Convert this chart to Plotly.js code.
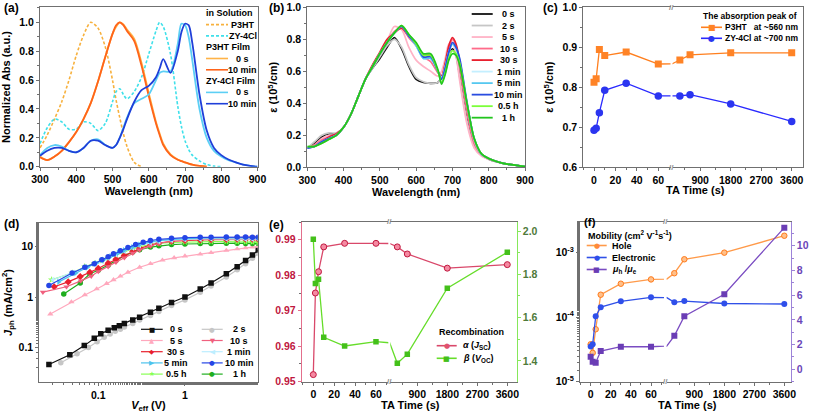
<!DOCTYPE html>
<html><head><meta charset="utf-8">
<script src="https://cdn.plot.ly/plotly-3.0.1.min.js"></script>
<style>html,body{margin:0;padding:0;background:#fff;}#chart{width:813px;height:413px;}</style>
</head><body><div id="chart"></div>
<script>
// ---------------- DATA ----------------
// (a) normalized absorption
const waveA = [300,320,340,360,380,400,420,440,460,480,500,510,520,530,540,560,580,600,620,630,640,660,680,690,700,710,720,740,760,780,800,820,840,860,880,900];
const absP3HTSol = [0.13,0.22,0.33,0.45,0.60,0.77,0.91,1.00,0.96,0.83,0.60,0.46,0.34,0.23,0.14,0.03,0.00,null,null,null,null,null,null,null,null,null,null,null,null,null,null,null,null,null,null,null];
const absZYSol = [0.16,0.27,0.33,0.31,0.26,0.26,0.31,0.30,0.25,0.30,0.45,0.52,0.54,0.50,0.47,0.52,0.62,0.78,0.94,1.00,0.97,0.78,0.42,0.28,0.18,0.12,0.08,0.04,0.015,0.004,0.0,null,null,null,null,null];
const absP3HTFilm0 = [0.07,0.045,0.07,0.11,0.17,0.24,0.33,0.44,0.59,0.76,0.92,0.97,1.00,0.985,0.95,0.885,0.72,0.51,0.31,0.23,0.16,0.085,0.05,0.04,0.03,0.022,0.015,0.006,0.0,null,null,null,null,null,null,null];
const absP3HTFilm10 = [0.065,0.045,0.07,0.11,0.17,0.24,0.33,0.44,0.59,0.76,0.92,0.98,1.00,0.98,0.94,0.87,0.70,0.49,0.30,0.22,0.15,0.08,0.048,0.038,0.03,0.022,0.015,0.006,0.0,null,null,null,null,null,null,null];
const absZYFilm0 = [0.08,0.13,0.15,0.14,0.11,0.10,0.13,0.18,0.19,0.15,0.13,0.15,0.20,0.27,0.34,0.44,0.47,0.50,0.60,0.65,0.66,0.66,0.85,0.99,0.98,0.90,0.74,0.40,0.20,0.11,0.07,0.045,0.03,0.015,0.006,0.0];
const absZYFilm10 = [0.075,0.11,0.13,0.13,0.11,0.10,0.13,0.18,0.18,0.15,0.13,0.15,0.20,0.26,0.33,0.45,0.53,0.56,0.62,0.68,0.745,0.65,0.80,0.93,0.99,0.98,0.86,0.50,0.25,0.13,0.08,0.05,0.03,0.015,0.006,0.0];

// (b) extinction coefficient vs TA time
const waveB = [300,320,340,360,380,400,420,440,460,480,500,520,540,560,580,600,620,640,660,670,680,690,700,710,720,740,760,780,800,840,900];
const labelsB = ['0 s','2 s','5 s','10 s','30 s','1 min','5 min','10 min','0.5 h','1 h'];
const eps0s   = [.12,.15,.19,.21,.21,.25,.33,.44,.55,.62,.68,.75,.81,.74,.63,.55,.53,.525,.53,.56,.62,.70,.74,.70,.57,.30,.14,.08,.05,.025,.005];
const eps2s   = [.12,.16,.20,.215,.215,.25,.33,.44,.55,.62,.69,.76,.80,.75,.64,.56,.535,.525,.53,.565,.63,.70,.73,.69,.56,.29,.13,.075,.05,.025,.005];
const eps5s   = [.12,.14,.18,.20,.20,.25,.33,.44,.55,.63,.71,.79,.88,.86,.75,.67,.63,.60,.57,.60,.68,.77,.78,.70,.54,.27,.12,.07,.05,.025,.005];
const eps10s  = [.12,.14,.17,.19,.20,.25,.33,.44,.55,.64,.71,.78,.85,.87,.81,.76,.69,.66,.59,.57,.64,.74,.80,.76,.63,.35,.15,.08,.055,.025,.005];
const eps30s  = [.12,.13,.16,.19,.21,.25,.33,.44,.55,.64,.72,.80,.84,.87,.82,.77,.70,.70,.60,.57,.65,.76,.81,.77,.66,.38,.17,.08,.055,.025,.005];
const eps1min = [.12,.13,.16,.18,.20,.25,.33,.44,.55,.63,.71,.78,.84,.88,.82,.76,.68,.68,.60,.56,.63,.72,.77,.74,.66,.39,.17,.08,.055,.025,.005];
const eps5min = [.12,.13,.16,.18,.20,.25,.33,.44,.55,.63,.71,.78,.84,.88,.82,.76,.68,.68,.60,.555,.62,.72,.77,.745,.67,.40,.18,.08,.055,.025,.005];
const eps10min= [.12,.13,.16,.18,.20,.25,.33,.44,.55,.63,.71,.78,.84,.88,.82,.77,.69,.69,.60,.55,.62,.72,.78,.75,.68,.41,.18,.085,.055,.025,.005];
const eps05h  = [.13,.13,.15,.175,.20,.25,.33,.44,.55,.63,.71,.78,.84,.885,.83,.77,.70,.70,.60,.53,.59,.68,.73,.71,.65,.40,.18,.085,.055,.025,.005];
const eps1h   = [.13,.13,.15,.175,.20,.25,.33,.44,.55,.63,.71,.78,.84,.885,.83,.78,.71,.71,.61,.52,.58,.67,.71,.70,.64,.40,.18,.085,.055,.025,.005];

// (c),(e),(f) TA time axis
const taTime = [0,2,5,10,30,60,300,600,1800,3600];
const leftTicks = [0,20,40,60];
const rightTicks = [900,1800,2700,3600];
const epsPeakP3HT = [0.812,0.821,0.894,0.879,0.888,0.858,0.868,0.881,0.886,0.886];
const epsPeakZY   = [0.692,0.697,0.736,0.792,0.810,0.778,0.778,0.781,0.758,0.714];

// (d) Jph vs Veff
const V0s = [0.027,0.047,0.069,0.09,0.107,0.13,0.153,0.175,0.2,0.25,0.3,0.4,0.5,0.7,1.0,1.5,2.0,3.0,4.0,5.0,6.0,7.0];
const J0s = [0.046,0.072,0.109,0.152,0.188,0.219,0.247,0.27,0.30,0.35,0.4,0.5,0.6,0.78,1.0,1.45,1.9,2.9,4.0,5.3,6.8,8.6];
const V2s = [0.037,0.057,0.077,0.097,0.117,0.137,0.157,0.18,0.2,0.25,0.3,0.4,0.5,0.7,1.0,1.5,2.0,3.0,4.0,5.0,6.0,7.0];
const J2s = [0.05,0.075,0.1,0.13,0.16,0.185,0.21,0.23,0.255,0.3,0.35,0.43,0.52,0.68,0.88,1.25,1.65,2.5,3.5,4.6,5.9,7.3];
const V5s = [0.028,0.049,0.07,0.096,0.125,0.15,0.18,0.22,0.3,0.4,0.55,0.75,1.0,1.5,2.0,3.0,4.0,5.0,6.0,7.0];
const J5s = [0.46,0.8,1.1,1.45,1.85,2.2,2.6,3.1,3.9,4.6,5.4,6.0,6.5,7.1,7.6,8.4,9.0,9.5,9.8,10.1];
const V10s = [0.023,0.043,0.063,0.083,0.1,0.13,0.16,0.2,0.25,0.3,0.4,0.5,0.7,1.0,1.5,2.0,3.0,4.0,5.0,6.0,7.0];
const J10s = [1.25,1.6,2.1,2.6,3.2,4.0,4.9,6.0,7.4,8.6,10.3,11.6,12.8,13.6,14.2,14.6,15.0,15.3,15.4,15.4,15.3];
const V30s = [0.031,0.045,0.062,0.08,0.1,0.13,0.16,0.2,0.25,0.3,0.4,0.5,0.7,1.0,1.5,2.0,3.0,4.0,5.0,6.0,7.0];
const J30s = [1.6,2.0,2.55,3.1,3.7,4.7,5.6,6.7,8.0,9.2,10.8,11.8,12.8,13.3,13.6,13.8,13.9,14.0,14.0,14.0,13.9];
const V1min = [0.03,0.05,0.07,0.09,0.11,0.13,0.16,0.2,0.25,0.3,0.4,0.5,0.7,1.0,1.5,2.0,3.0,4.0,5.0,6.0,7.0];
const J1min = [2.2,3.0,3.8,4.5,5.2,6.0,7.0,8.2,9.5,10.6,12.0,12.8,13.6,14.0,14.2,14.3,14.3,14.3,14.2,14.2,14.1];
const V5min = [0.035,0.055,0.075,0.095,0.115,0.14,0.17,0.2,0.25,0.3,0.4,0.5,0.7,1.0,1.5,2.0,3.0,4.0,5.0,6.0,7.0];
const J5min = [2.0,3.0,3.9,4.7,5.5,6.5,7.5,8.5,9.8,11.0,12.4,13.2,14.0,14.5,14.8,14.9,15.0,15.0,15.0,14.9,14.9];
const V10min = [0.027,0.05,0.07,0.09,0.11,0.13,0.15,0.18,0.22,0.27,0.33,0.4,0.5,0.7,1.0,1.5,2.0,3.0,4.0,5.0,6.0,7.0];
const J10min = [1.7,3.0,3.9,4.6,5.5,6.3,7.2,8.3,9.6,11.0,12.2,13.2,14.0,14.7,15.1,15.3,15.4,15.5,15.5,15.5,15.4,15.4];
const V05h = [0.029,0.05,0.07,0.09,0.11,0.13,0.16,0.2,0.25,0.3,0.4,0.5,0.7,1.0,1.5,2.0,3.0,4.0,5.0,6.0,7.0];
const J05h = [2.2,3.0,4.0,4.6,5.3,6.0,6.9,8.0,9.1,10.0,11.0,11.6,12.1,12.4,12.6,12.6,12.6,12.5,12.4,12.3,12.2];
const V1h = [0.04,0.062,0.08,0.1,0.13,0.16,0.2,0.25,0.3,0.4,0.5,0.7,1.0,1.5,2.0,3.0,4.0,5.0,6.0,7.0];
const J1h = [1.15,1.9,2.9,3.4,4.3,5.3,6.6,7.8,8.7,9.8,10.4,11.0,11.3,11.5,11.6,11.7,11.7,11.6,11.6,11.5];
const logTicksVx = [0.1,1];
const logTextVx = ['0.1','1'];
const logTicksJy = [0.1,1,10];
const logTextJy = ['0.1','1','10'];

// (e) recombination
const alphaJsc = [0.952,0.975,0.981,0.988,0.989,0.989,0.988,0.986,0.982,0.983];
const betaVoc  = [1.962,1.758,1.777,1.509,1.469,1.489,1.389,1.431,1.736,1.902];

// (f) mobility
const holeMob = [3.8e-5,2.8e-5,6.5e-5,2.23e-4,3.3e-4,3.85e-4,4.8e-4,7.9e-4,1.0e-3,1.83e-3];
const elecMob = [3.5e-5,3.8e-5,1.03e-4,1.43e-4,1.76e-4,2.03e-4,1.7e-4,1.78e-4,1.63e-4,1.6e-4];
const mobRatio = [1.02,0.61,0.53,1.48,1.83,1.83,2.71,4.3,6.08,11.47];
const mobTicks = [1e-5,1e-4,1e-3];
const mobTickText = ['10<sup>-5</sup>','10<sup>-4</sup>','10<sup>-3</sup>'];

// ---------------- STYLE / LAYOUT HELPERS ----------------
const W = 813, H = 413;
const PX = v => v / W;
const PY = v => 1 - v / H;
const FONT = 'Liberation Sans, Arial, Helvetica, sans-serif';
const LINE = '#707070';
const bold = (size, color) => ({family: FONT, size: size, color: color || '#000', weight: 'bold'});

function ax(o) {
  return Object.assign({
    showline: true, linecolor: LINE, linewidth: 1,
    ticks: 'outside', ticklen: 3, tickwidth: 1, tickcolor: LINE,
    showgrid: false, zeroline: false, autorange: false, fixedrange: true,
    tickfont: bold(10.5)
  }, o);
}
const minor = (d) => ({ticks: 'outside', ticklen: 2, tickcolor: LINE, dtick: d, showgrid: false});

const colB = ['#111111','#c6c6c6','#ffb3c6','#ff6b8a','#e8202e','#c4efff','#55c8f0','#2a4de0','#7cff3a','#22c51e'];
const seriesB = [eps0s, eps2s, eps5s, eps10s, eps30s, eps1min, eps5min, eps10min, eps05h, eps1h];

const traces = [];

// (a)
const cA = {p3sol:'#f7b13e', zysol:'#3fe0ea', p30:'#ffb347', p310:'#ff641a', zy0:'#5ccff5', zy10:'#1f3fd9'};
function lineTrace(x, y, xa, ya, color, width, dash) {
  return {x: x, y: y, xaxis: xa, yaxis: ya, type: 'scatter', mode: 'lines',
    line: {color: color, width: width, dash: dash || 'solid', shape: 'spline', smoothing: 0.8},
    connectgaps: false, showlegend: false, hoverinfo: 'skip'};
}
traces.push(lineTrace(waveA, absP3HTSol, 'x', 'y', cA.p3sol, 1.6, '3px,2px'));
traces.push(lineTrace(waveA, absZYSol, 'x', 'y', cA.zysol, 1.6, '3px,2px'));
traces.push(lineTrace(waveA, absP3HTFilm0, 'x', 'y', cA.p30, 1.8));
traces.push(lineTrace(waveA, absP3HTFilm10, 'x', 'y', cA.p310, 1.8));
traces.push(lineTrace(waveA, absZYFilm0, 'x', 'y', cA.zy0, 1.8));
traces.push(lineTrace(waveA, absZYFilm10, 'x', 'y', cA.zy10, 1.8));

// (b)
seriesB.forEach((s, i) => traces.push(lineTrace(waveB, s, 'x2', 'y2', colB[i], 1.7)));

// broken-axis helper: the left segment shows 0-60 s, the right segment 300-3600 s,
// with the 60 s -> 300 s link drawn on both sides (clipped at the break).
const iLastLeft = taTime.indexOf(60);
function broken(y, xl, yl, xr, yr, color, marker) {
  const base = {type: 'scatter', cliponaxis: true, showlegend: false, hoverinfo: 'skip',
    line: {color: color, width: 1.3}, marker: marker};
  traces.push(Object.assign({}, base, {x: taTime.slice(0, iLastLeft + 2), y: y.slice(0, iLastLeft + 2),
    mode: 'lines+markers', xaxis: xl, yaxis: yl}));
  traces.push(Object.assign({}, base, {x: taTime.slice(iLastLeft), y: y.slice(iLastLeft),
    mode: 'lines', xaxis: xr, yaxis: yr}));
  traces.push(Object.assign({}, base, {x: taTime.slice(iLastLeft + 1), y: y.slice(iLastLeft + 1),
    mode: 'markers', xaxis: xr, yaxis: yr}));
}
// (c)
broken(epsPeakP3HT, 'x3', 'y3', 'x4', 'y4', '#ff7f1e', {symbol: 'square', size: 7, color: '#ff8326'});
broken(epsPeakZY, 'x3', 'y3', 'x4', 'y4', '#2a2aff', {symbol: 'circle', size: 7.5, color: '#2b35f0'});

// (d)
const dSeries = [
  {v: V2s, j: J2s, c: colB[1], s: 'circle', n: '2 s'},
  {v: V0s, j: J0s, c: colB[0], s: 'square', n: '0 s'},
  {v: V5s, j: J5s, c: '#ffa8bd', s: 'triangle-up', n: '5 s'},
  {v: V1h, j: J1h, c: '#1fae1f', s: 'circle', n: '1 h'},
  {v: V05h, j: J05h, c: '#88ff55', s: 'star', n: '0.5 h'},
  {v: V30s, j: J30s, c: '#e8202e', s: 'diamond', n: '30 s'},
  {v: V10s, j: J10s, c: '#f0607e', s: 'triangle-down', n: '10 s'},
  {v: V1min, j: J1min, c: '#bdeeff', s: 'triangle-left', n: '1 min'},
  {v: V5min, j: J5min, c: '#4cc3ec', s: 'triangle-right', n: '5 min'},
  {v: V10min, j: J10min, c: '#2545e6', s: 'circle', n: '10 min'}
];
dSeries.forEach(d => traces.push({x: d.v, y: d.j, xaxis: 'x5', yaxis: 'y5', type: 'scatter', mode: 'lines+markers',
  line: {color: d.c, width: 1.2}, marker: {symbol: d.s, size: 5.5, color: d.c}, showlegend: false, hoverinfo: 'skip'}));

// (e)
broken(alphaJsc, 'x6', 'y6', 'x7', 'y7', '#d9486a', {symbol: 'circle', size: 6, color: '#f58aa2', line: {color: '#c0183f', width: 1}});
broken(betaVoc, 'x6', 'y9', 'x7', 'y8', '#66dd2a', {symbol: 'square', size: 5.5, color: '#44c01a'});

// (f)
broken(holeMob, 'x8', 'y10', 'x9', 'y11', '#ff9a4a', {symbol: 'circle', size: 5.5, color: '#ffc08a', line: {color: '#ff7a1a', width: 1}});
broken(elecMob, 'x8', 'y10', 'x9', 'y11', '#3050e8', {symbol: 'circle', size: 6, color: '#2f4fea'});
broken(mobRatio, 'x8', 'y13', 'x9', 'y12', '#7a4cc2', {symbol: 'square', size: 6, color: '#6a3db5'});

// ---------------- AXES ----------------
const dA = {x: [PX(40), PX(257.5)], y: [PY(166.7), PY(7.3)]};
const dB = {x: [PX(307.3), PX(525)], y: [PY(167.3), PY(7.3)]};
const dCy = [PY(167), PY(7.3)];
const dD = {x: [PX(39.3), PX(257.7)], y: [PY(382.3), PY(222.7)]};
const dEy = [PY(381.7), PY(221.7)];
const dFy = [PY(381.7), PY(221.7)];

const layout = {
  width: W, height: H, margin: {l: 0, r: 0, t: 0, b: 0},
  paper_bgcolor: '#fff', plot_bgcolor: 'rgba(0,0,0,0)', showlegend: false, hovermode: false,
  font: {family: FONT, size: 10.5, color: '#000', weight: 'bold'},
  // (a)
  xaxis: ax({domain: dA.x, anchor: 'y', range: [300, 900], dtick: 100, tick0: 300, mirror: true, minor: minor(50),
    title: {text: 'Wavelength (nm)', font: bold(11), standoff: 2}}),
  yaxis: ax({domain: dA.y, anchor: 'x', range: [0, 1.104], dtick: 0.2, tick0: 0, tickformat: '.1f', mirror: true, minor: minor(0.1),
    title: {text: 'Normalized Abs (a.u.)', font: bold(11), standoff: 6}}),
  // (b)
  xaxis2: ax({domain: dB.x, anchor: 'y2', range: [300, 900], dtick: 100, tick0: 300, mirror: true, minor: minor(50),
    title: {text: 'Wavelength (nm)', font: bold(11), standoff: 2}}),
  yaxis2: ax({domain: dB.y, anchor: 'x2', range: [0, 1.0], dtick: 0.2, tick0: 0, tickformat: '.1f', mirror: true, minor: minor(0.1),
    title: {text: 'ε (10<sup>5</sup>/cm)', font: bold(11), standoff: 6}}),
  // (c)
  xaxis3: ax({domain: [PX(583.3), PX(670.5)], anchor: 'y3', range: [-10, 71.4], tickmode: 'array', tickvals: leftTicks, mirror: true, minor: minor(10)}),
  xaxis4: ax({domain: [PX(672.5), PX(803.3)], anchor: 'y4', range: [82.6, 3942], tickmode: 'array', tickvals: rightTicks, mirror: true, minor: minor(450)}),
  yaxis3: ax({domain: dCy, anchor: 'x3', range: [0.6, 1.0], dtick: 0.1, tick0: 0.6, tickformat: '.1f', minor: minor(0.05),
    title: {text: 'ε (10<sup>5</sup>/cm)', font: bold(11), standoff: 6}}),
  yaxis4: ax({domain: dCy, anchor: 'x4', side: 'right', range: [0.6, 1.0], showticklabels: false, ticks: ''}),
  // (d)
  xaxis5: ax({type: 'log', domain: dD.x, anchor: 'y5', range: [Math.log10(0.0209), Math.log10(6.9)], tickmode: 'array',
    tickvals: logTicksVx, ticktext: logTextVx, mirror: true, minor: {ticks: 'outside', ticklen: 2, tickcolor: LINE},
    title: {text: '<i>V</i><sub>eff</sub> (V)', font: bold(11), standoff: 2}}),
  yaxis5: ax({type: 'log', domain: dD.y, anchor: 'x5', range: [-1.69, 1.475], tickmode: 'array',
    tickvals: logTicksJy, ticktext: logTextJy, mirror: true, minor: {ticks: 'outside', ticklen: 2, tickcolor: LINE},
    title: {text: '<i>J</i><sub>ph</sub> (mA/cm<sup>2</sup>)', font: bold(11), standoff: 6}}),
  // (e)
  xaxis6: ax({domain: [PX(301.7), PX(388.3)], anchor: 'y6', range: [-11.1, 71.8], tickmode: 'array', tickvals: leftTicks, mirror: true, minor: minor(10)}),
  xaxis7: ax({domain: [PX(390.3), PX(516.7)], anchor: 'y7', range: [90, 3882], tickmode: 'array', tickvals: rightTicks, mirror: true, minor: minor(450)}),
  yaxis6: ax({domain: dEy, anchor: 'x6', range: [0.95, 0.9951], dtick: 0.01, tick0: 0.95, tickformat: '.2f', minor: minor(0.005),
    linecolor: '#e36f8c', tickcolor: '#e36f8c', tickfont: bold(10.5, '#c0173f')}),
  yaxis7: ax({domain: dEy, anchor: 'x7', range: [0.95, 0.9951], visible: false}),
  yaxis8: ax({domain: dEy, anchor: 'x7', overlaying: 'y7', side: 'right', range: [1.304, 2.043], dtick: 0.2, tick0: 1.4, tickformat: '.1f',
    minor: Object.assign(minor(0.1), {tickcolor: '#86e85a'}), linecolor: '#86e85a', tickcolor: '#86e85a', tickfont: bold(10.5, '#4f7a3a')}),
  yaxis9: ax({domain: dEy, anchor: 'x6', overlaying: 'y6', range: [1.304, 2.043], visible: false}),
  // (f)
  xaxis8: ax({domain: [PX(580), PX(664)], anchor: 'y10', range: [-10.6, 72.9], tickmode: 'array', tickvals: leftTicks, mirror: true, minor: minor(10)}),
  xaxis9: ax({domain: [PX(666.5), PX(790.7)], anchor: 'y11', range: [65, 3792], tickmode: 'array', tickvals: rightTicks, mirror: true, minor: minor(450)}),
  yaxis10: ax({type: 'log', domain: dFy, anchor: 'x8', range: [-5, -2.52], tickmode: 'array', tickvals: mobTicks, ticktext: mobTickText,
    minor: {ticks: 'outside', ticklen: 2, tickcolor: LINE}}),
  yaxis11: ax({type: 'log', domain: dFy, anchor: 'x9', range: [-5, -2.52], visible: false}),
  yaxis12: ax({domain: dFy, anchor: 'x9', overlaying: 'y11', side: 'right', range: [-1, 11.95], dtick: 2, tick0: 0,
    minor: Object.assign(minor(1), {tickcolor: '#9d83d8'}), linecolor: '#9d83d8', tickcolor: '#9d83d8', tickfont: bold(10.5, '#6b46b8')}),
  yaxis13: ax({domain: dFy, anchor: 'x8', overlaying: 'y10', range: [-1, 11.95], visible: false}),
  shapes: [],
  annotations: []
};

// ---------------- LEGENDS (drawn as layout shapes + text) ----------------
const GLYPH = {'square': '■', 'circle': '●', 'triangle-up': '▲', 'triangle-down': '▼', 'triangle-left': '◀',
  'triangle-right': '▶', 'diamond': '◆', 'star': '★'};
function note(text, x, y, o) {
  layout.annotations.push(Object.assign({text: text, x: PX(x), y: PY(y), xref: 'paper', yref: 'paper', showarrow: false,
    xanchor: 'left', yanchor: 'middle', font: bold(9)}, o || {}));
}
function legendBlock(rows, c) {
  rows.forEach((r, i) => {
    const y = c.y0 + i * c.dy;
    if (r.header) { note(r.header, c.hx, y, {font: bold(c.fs || 9)}); return; }
    layout.shapes.push({type: 'line', xref: 'paper', yref: 'paper', x0: PX(c.lx0), x1: PX(c.lx1), y0: PY(y), y1: PY(y),
      line: {color: r.color, width: r.width || 1.6, dash: r.dash || 'solid'}});
    if (r.symbol) note(GLYPH[r.symbol], c.mx, y + 0.3, {xanchor: 'center', font: {family: 'DejaVu Sans', size: c.ms || 7, color: r.mcolor || r.color}});
    note(r.name, c.tx, y, {xanchor: c.ta || 'left', font: bold(c.fs || 9)});
  });
}
// (a)
legendBlock([
  {header: 'in Solution'},
  {name: 'P3HT', color: cA.p3sol, dash: '3px,2px'},
  {name: 'ZY-4Cl', color: cA.zysol, dash: '3px,2px'},
  {header: 'P3HT Film'},
  {name: '0 s', color: cA.p30},
  {name: '10 min', color: cA.p310},
  {header: 'ZY-4Cl Film'},
  {name: '0 s', color: cA.zy0},
  {name: '10 min', color: cA.zy10}
], {y0: 13.3, dy: 11.3, hx: 204, lx0: 206, lx1: 228, tx: 242.5, ta: 'center'});
// (b)
legendBlock(labelsB.map((n, i) => ({name: n, color: colB[i], width: 1.8})),
  {y0: 14, dy: 11.52, lx0: 471.7, lx1: 492.7, tx: 509, ta: 'center'});
// (c)
note('The absorption peak of', 701, 16, {font: bold(8.5)});
legendBlock([
  {name: 'P3HT\u00a0\u00a0\u00a0at ~560 nm', color: '#ff7f1e', symbol: 'square', mcolor: '#ff8326'},
  {name: 'ZY-4Cl at ~700 nm', color: '#2a2aff', symbol: 'circle', mcolor: '#2b35f0'}
], {y0: 27.3, dy: 11, lx0: 701, lx1: 722, mx: 711.5, tx: 723, fs: 8.5, ms: 8});
// (d)
const dByName = {};
dSeries.forEach(d => { dByName[d.n] = d; });
const dCol1 = ['0 s', '5 s', '30 s', '5 min', '0.5 h'];
const dCol2 = ['2 s', '10 s', '1 min', '10 min', '1 h'];
legendBlock(dCol1.map(n => ({name: n, color: dByName[n].c, symbol: dByName[n].s, width: 1.2})),
  {y0: 329.3, dy: 11.2, lx0: 141, lx1: 162.7, mx: 151.8, tx: 176, ta: 'center', ms: 6.5});
legendBlock(dCol2.map(n => ({name: n, color: dByName[n].c, symbol: dByName[n].s, width: 1.2})),
  {y0: 329.3, dy: 11.2, lx0: 201.7, lx1: 222.7, mx: 212.2, tx: 239, ta: 'center', ms: 6.5});
// (e)
note('Recombination', 436.7, 332.3);
legendBlock([
  {name: '<i>α</i> (<i>J</i><sub>SC</sub>)', color: '#d9486a', symbol: 'circle', mcolor: '#e0526f'},
  {name: '<i>β</i> (<i>V</i><sub>OC</sub>)', color: '#66dd2a', symbol: 'square', mcolor: '#44c01a'}
], {y0: 345.7, dy: 12.6, lx0: 436.7, lx1: 456.7, mx: 446.7, tx: 461});
// (f)
note('Mobility (cm<sup>2</sup> V<sup>-1</sup>s<sup>-1</sup>)', 586, 234.5);
legendBlock([
  {name: 'Hole', color: '#ff9a4a', symbol: 'circle', mcolor: '#ff8a3a'},
  {name: 'Electronic', color: '#3050e8', symbol: 'circle', mcolor: '#2f4fea'},
  {name: '<i>μ</i><sub>h</sub> /<i>μ</i><sub>e</sub>', color: '#7a4cc2', symbol: 'square', mcolor: '#6a3db5'}
], {y0: 245.5, dy: 12, lx0: 586.7, lx1: 606.7, mx: 596.7, tx: 610});

// x titles of the broken-axis panels, break marks, panel letters
note('TA Time (s)', 695, 190, {xanchor: 'center', font: bold(11)});
note('TA Time (s)', 410, 405, {xanchor: 'center', font: bold(11)});
note('TA Time (s)', 687.5, 405, {xanchor: 'center', font: bold(11)});
[[671.5, 167], [671.5, 7.3], [389.3, 381.7], [389.3, 221.7], [665.3, 381.7], [665.3, 221.7]].forEach(p =>
  note('//', p[0], p[1], {xanchor: 'center', font: {family: FONT, size: 8, color: '#888'}}));
[['(a)', 2, 8], ['(b)', 267, 8], ['(c)', 541, 8], ['(d)', 2, 223.5], ['(e)', 267, 225]].forEach(p =>
  note(p[0], p[1], p[2], {font: bold(12)}));
note('(f)', 582, 221.5, {font: bold(11.5)});

Plotly.newPlot('chart', traces, layout, {staticPlot: true, responsive: false});
</script>
</body></html>
